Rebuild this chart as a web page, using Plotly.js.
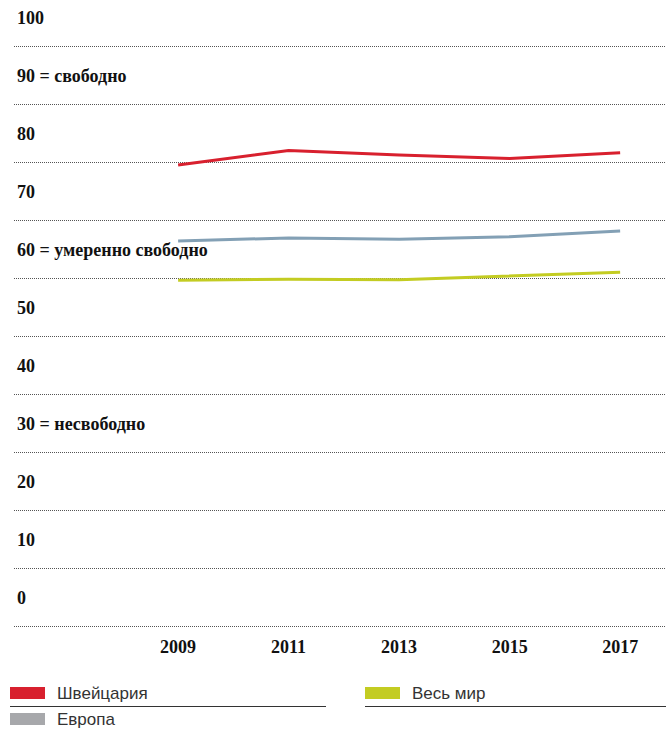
<!DOCTYPE html>
<html>
<head>
<meta charset="utf-8">
<script src="https://cdn.plot.ly/plotly-3.0.1.min.js"></script>
<style>html,body{margin:0;padding:0;background:#fff;}#chart{width:666px;height:729px;}</style>
</head>
<body>
<div id="chart"></div>
<script>
const years = [2009, 2011, 2013, 2015, 2017];
const switzerland = [79.5, 82.0, 81.2, 80.6, 81.6];
const europe = [66.4, 66.9, 66.7, 67.1, 68.1];
const world = [59.6, 59.8, 59.7, 60.4, 61.0];
const yTickVals = [0, 10, 20, 30, 40, 50, 60, 70, 80, 90, 100];
const yTickLabels = ['0', '10', '20', '30 = несвободно', '40', '50', '60 = умеренно свободно', '70', '80', '90 = свободно', '100'];
const seriesNames = ['Швейцария', 'Европа', 'Весь мир'];
const lineColors = ['#d8202e', '#83a0b5', '#c3cc22'];
const swatchColors = ['#d8202e', '#a7a8ab', '#c3cc22'];

const W = 666, H = 729, ML = 14, MR = 0, MT = 44, MB = 101;
const PW = W - ML - MR, PH = H - MT - MB;
const px = x => (x - ML) / PW;
const py = y => (H - MB - y) / PH;
const ext = (PH - 580) / 2 / 5.8;

const serif = {family: '"Liberation Serif", "Times New Roman", serif', size: 18, color: '#111', weight: 'bold'};
const sans = {family: '"Liberation Sans", Arial, sans-serif', size: 17, color: '#333'};

const traces = [switzerland, europe, world].map((vals, i) => ({
  x: years, y: vals, type: 'scatter', mode: 'lines', name: seriesNames[i],
  line: {color: lineColors[i], width: 3}, hoverinfo: 'skip'
}));

const annotations = yTickVals.map((v, i) => ({
  xref: 'paper', yref: 'y', x: 0, y: v, xanchor: 'left', yanchor: 'middle',
  xshift: 1, yshift: 28, text: yTickLabels[i], showarrow: false, font: serif
}));

// legend layout: name index, swatch left, row top, underline end
const legendItems = [
  {i: 0, x0: 10, y0: 687, lineEnd: 326},
  {i: 2, x0: 365, y0: 687, lineEnd: 666},
  {i: 1, x0: 10, y0: 713, lineEnd: null}
];
const shapes = [];
legendItems.forEach(it => {
  shapes.push({type: 'rect', xref: 'paper', yref: 'paper', x0: px(it.x0), x1: px(it.x0 + 35),
    y0: py(it.y0), y1: py(it.y0 + 12), fillcolor: swatchColors[it.i], line: {width: 0}});
  annotations.push({xref: 'paper', yref: 'paper', x: px(it.x0 + 45), y: py(it.y0 + 6.5),
    xanchor: 'left', yanchor: 'middle', text: seriesNames[it.i], showarrow: false, font: sans});
  if (it.lineEnd) {
    shapes.push({type: 'line', xref: 'paper', yref: 'paper', x0: px(it.x0), x1: px(it.lineEnd),
      y0: py(it.y0 + 19.5), y1: py(it.y0 + 19.5), line: {color: '#333', width: 1}});
  }
});

const layout = {
  width: W, height: H,
  margin: {l: ML, r: MR, t: MT, b: MB, pad: 0},
  paper_bgcolor: '#fff', plot_bgcolor: '#fff',
  showlegend: false,
  xaxis: {range: [2006.03, 2017.83], tickvals: years, ticktext: years.map(String),
    ticks: 'outside', ticklen: 2, tickcolor: 'rgba(0,0,0,0)', showgrid: false, zeroline: false,
    showline: false, tickfont: serif, fixedrange: true},
  yaxis: {range: [-ext, 100 + ext], tickvals: yTickVals, showticklabels: false, ticks: '',
    showgrid: true, gridcolor: '#555', gridwidth: 1, griddash: '1px,1px', zeroline: false,
    showline: false, fixedrange: true},
  annotations: annotations,
  shapes: shapes
};

Plotly.newPlot('chart', traces, layout, {staticPlot: true, displayModeBar: false});
</script>
</body>
</html>
